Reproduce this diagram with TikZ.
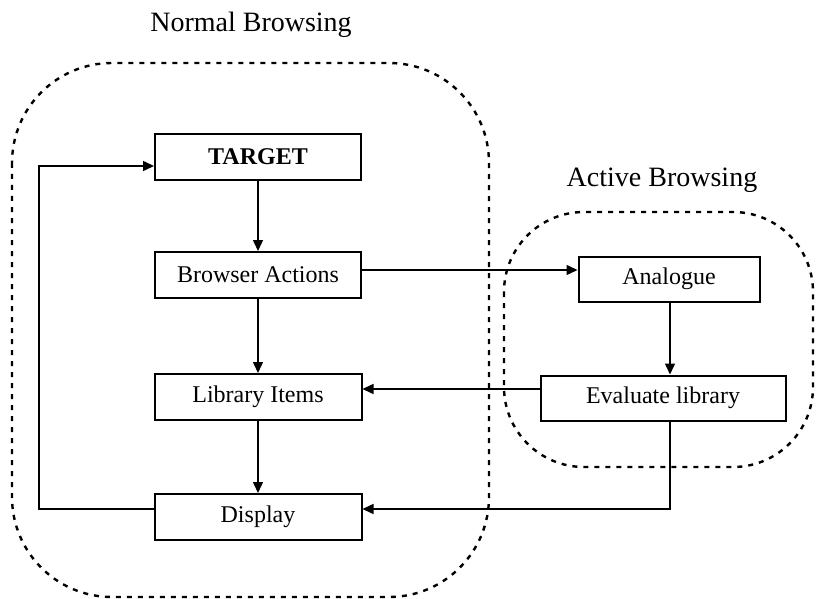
\documentclass[tikz,border=0pt]{standalone}
\usepackage{fontspec}
\setmainfont{Liberation Serif}
\usetikzlibrary{arrows.meta}
\tikzset{
  stepbox/.style={draw, line width=2pt, minimum height=46pt, inner sep=0pt, font=\fontsize{24}{28}\selectfont},
  flow/.style={line width=1.5pt, -{Triangle[length=11pt,width=10pt]}},
  region/.style={line width=2.4pt, dash pattern=on 5pt off 6pt},
  title/.style={font=\fontsize{28}{32}\selectfont}
}
\begin{document}
\begin{tikzpicture}[x=1pt,y=-1pt]
\useasboundingbox (0,0) rectangle (817,599);
% grouping regions
\draw[region, rounded corners=100pt] (12,63) rectangle (489,597);
\draw[region, rounded corners=80pt] (504,212) rectangle (813,467);
\node[title] (nb) at (251,25) {Normal Browsing};
\node[title] (ab) at (662,180) {Active Browsing};
% process boxes
\node[stepbox, minimum width=206pt] (target) at (258,157) {\textbf{TARGET}};
\node[stepbox, minimum width=206pt] (browser) at (258,275) {Browser Actions};
\node[stepbox, minimum width=207pt] (library) at (258,397) {Library Items};
\node[stepbox, minimum width=207pt] (display) at (258,517) {Display};
\node[stepbox, minimum width=181pt, minimum height=45pt] (analogue) at (669,279) {Analogue};
\node[stepbox, minimum width=245pt, minimum height=45pt] (evaluate) at (663,398) {Evaluate library};
% connectors
\draw[flow] (target) -- (browser);
\draw[flow] (browser) -- (library);
\draw[flow] (library) -- (display);
\draw[flow] (browser.east |- 0,270) -- (analogue.west |- 0,270);
\draw[flow] (analogue.south -| 670,0) -- (evaluate.north -| 670,0);
\draw[flow] (evaluate.west |- 0,389) -- (library.east |- 0,389);
\draw[flow] (evaluate.south -| 670,0) |- (display.east |- 0,509);
\draw[flow] (display.west |- 0,509) -| (39,166) -- (target.west |- 0,166);
\end{tikzpicture}
\end{document}
